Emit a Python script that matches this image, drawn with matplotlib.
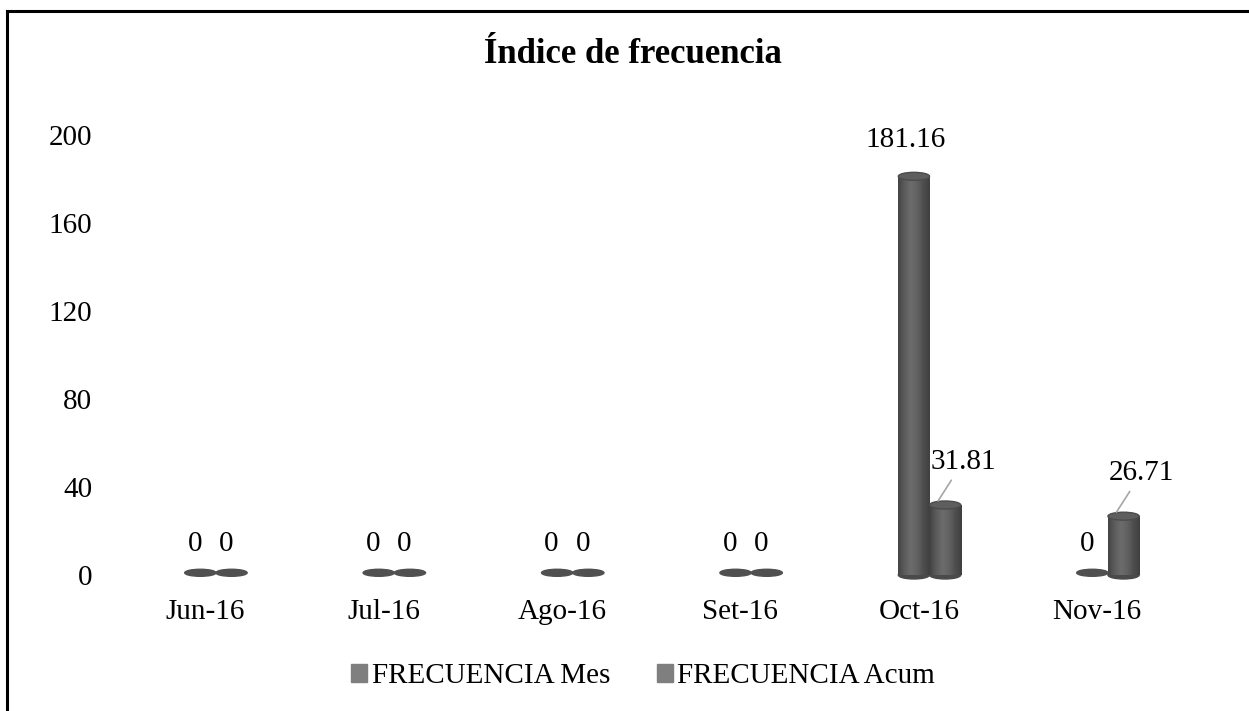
import numpy as np
import matplotlib.pyplot as plt
from matplotlib.patches import Ellipse
from matplotlib.lines import Line2D
from matplotlib.colors import LinearSegmentedColormap

meses = ["Jun-16", "Jul-16", "Ago-16", "Set-16", "Oct-16", "Nov-16"]
frec_mes = [0, 0, 0, 0, 181.16, 0]
frec_acum = [0, 0, 0, 0, 31.81, 26.71]
yticks = [0, 40, 80, 120, 160, 200]

plt.rcParams["font.family"] = ["Liberation Serif", "DejaVu Serif"]

fig = plt.figure(figsize=(12.49, 7.11), dpi=100)
ax = fig.add_axes([0.0929, 0.1913, 0.857, 0.619])

x = np.arange(len(meses))
w = 0.175
shift = 0.06
ax.set_xlim(-0.5, len(meses) - 0.5)
ax.set_ylim(0, 200)

# altura de la elipse (tapa del cilindro) en unidades de datos
px_per_unit = 0.619 * 711 / 200
cap_h = 8 / px_per_unit

# sombreado horizontal del cilindro
sombra = LinearSegmentedColormap.from_list(
    "cil", ["#444444", "#5c5c5c", "#6c6c6c", "#626262", "#4e4e4e", "#404040"])
grad = np.linspace(0, 1, 64)[np.newaxis, :]


def cilindros(xs, vals):
    bars = ax.bar(xs, vals, w, color="#585858", zorder=2)
    for b, xc, v in zip(bars, xs, vals):
        if v <= 0:
            # disco plano para los ceros
            ax.add_patch(Ellipse((xc, 1.0), w, 3.2, color="#505050",
                                 zorder=3, clip_on=False))
            continue
        ax.add_patch(Ellipse((xc, 0), w, cap_h, color="#4a4a4a", zorder=1,
                             clip_on=False))
        im = ax.imshow(grad, cmap=sombra, aspect="auto",
                       extent=[xc - w / 2, xc + w / 2, 0, v], zorder=2.5,
                       interpolation="bilinear")
        im.set_clip_path(b)
        ax.add_patch(Ellipse((xc, v), w, cap_h, facecolor="#5e5e5e",
                             edgecolor="#4c4c4c", lw=1, zorder=3))


cilindros(x + shift - w / 2, frec_mes)
cilindros(x + shift + w / 2, frec_acum)
ax.set_xlim(-0.5, len(meses) - 0.5)
ax.set_ylim(0, 200)

# etiquetas de datos
lab_kw = dict(textcoords="offset points", ha="center", va="center", fontsize=21)
for xi, v in zip(x + shift - w / 2, frec_mes):
    if v == 0:
        ax.annotate("0", (xi, 0), xytext=(-4, 22), **lab_kw)
    else:
        ax.annotate(f"{v:.2f}", (xi, v), xytext=(-6, 26), **lab_kw)
for xi, v in zip(x + shift + w / 2, frec_acum):
    if v == 0:
        ax.annotate("0", (xi, 0), xytext=(-4, 22), **lab_kw)
    else:
        ax.annotate(f"{v:.2f}", (xi - 0.04, v + cap_h / 2), xytext=(18, 28),
                    arrowprops=dict(arrowstyle="-", color="#a6a6a6", lw=1.2,
                                    shrinkA=2, shrinkB=0), **lab_kw)

ax.set_xticks(x)
ax.set_xticklabels(meses, fontsize=21)
ax.set_yticks(yticks)
ax.set_yticklabels([str(t) for t in yticks], fontsize=21)
ax.tick_params(axis="x", length=0, pad=17)
ax.tick_params(axis="y", length=0, pad=17)
for s in ax.spines.values():
    s.set_visible(False)

fig.text(0.507, 0.923, "Índice de frecuencia", ha="center", va="center",
         fontsize=25, fontweight="bold")

# leyenda
h1 = plt.Rectangle((0, 0), 1, 1, color="#7f7f7f")
h2 = plt.Rectangle((0, 0), 1, 1, color="#7f7f7f")
fig.legend([h1, h2], ["FRECUENCIA Mes", "FRECUENCIA Acum"], loc="center",
           bbox_to_anchor=(0.515, 0.049), ncol=2, frameon=False, fontsize=21,
           handlelength=0.55, handleheight=0.55, handletextpad=0.15,
           columnspacing=1.6)

# marco (solo izquierda y arriba)
fig.add_artist(Line2D([0.0056, 0.0056], [0, 0.985], color="black", lw=2.2,
                      transform=fig.transFigure))
fig.add_artist(Line2D([0.0056, 1], [0.985, 0.985], color="black", lw=2.2,
                      transform=fig.transFigure))

fig.savefig("out.png", dpi=100, facecolor="white")
